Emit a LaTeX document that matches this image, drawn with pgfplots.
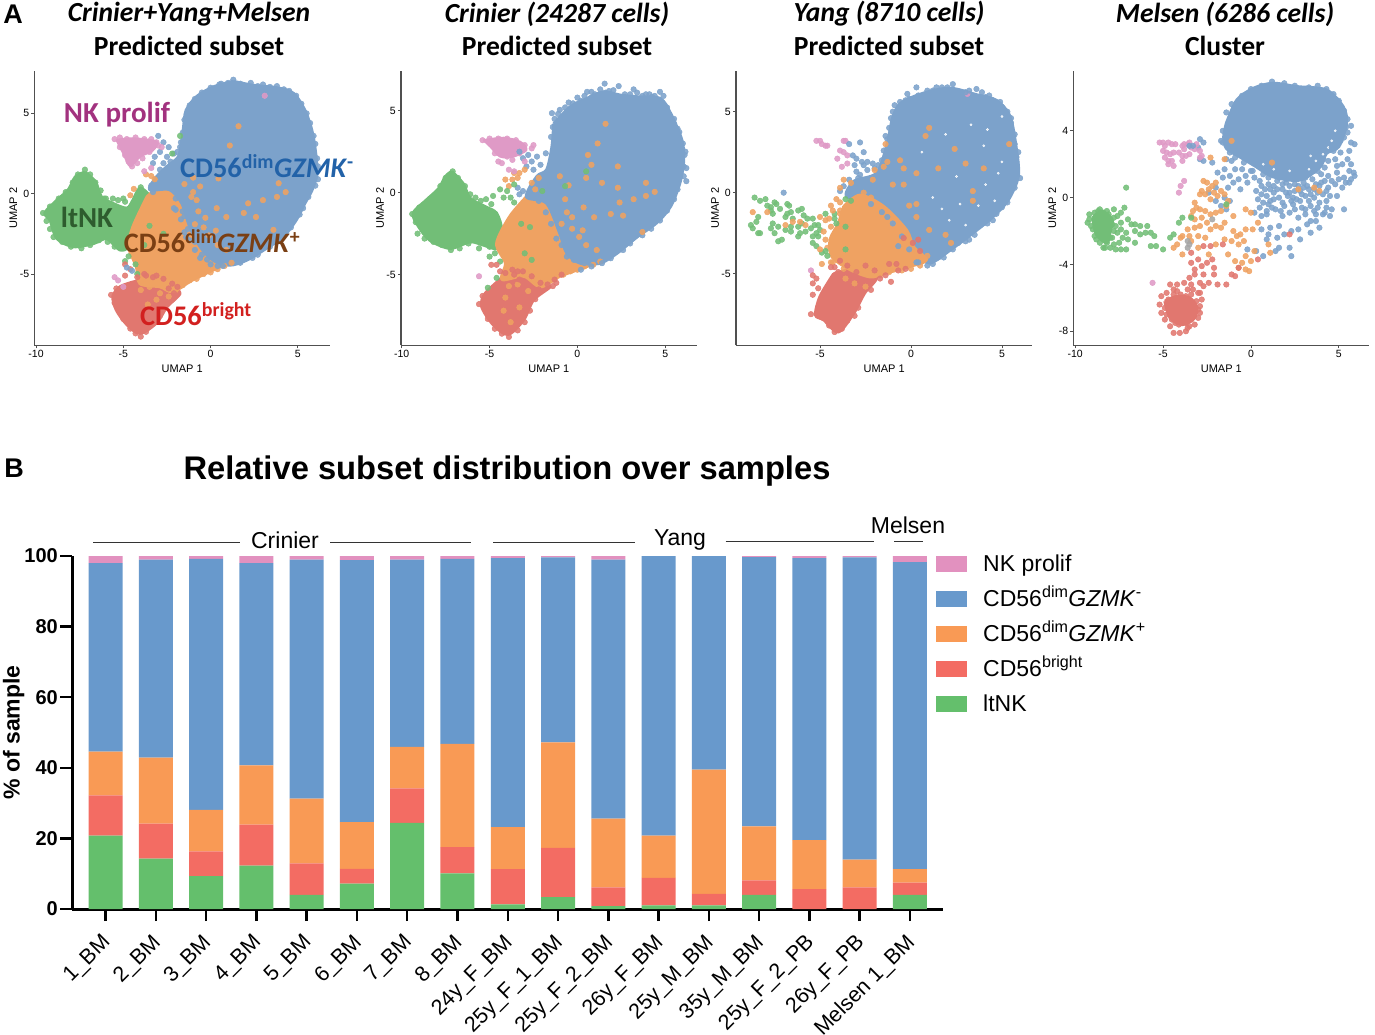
\documentclass[border=0pt]{standalone}
\usepackage{fontspec}
\usepackage{pgfplots}
\usepackage{pgfplotstable}
\pgfplotsset{compat=1.18}
\setmainfont{Liberation Sans}
\newfontfamily\carlito{Carlito}
\newcommand{\fs}[1]{\fontsize{#1}{#1}\selectfont}

% colours of the bars
\definecolor{barpink}{HTML}{E291BF}
\definecolor{barblue}{HTML}{6899CC}
\definecolor{barorange}{HTML}{F99A55}
\definecolor{barred}{HTML}{F36C63}
\definecolor{bargreen}{HTML}{64BF6C}
% colours of the umap dots
\definecolor{cpink}{HTML}{DF9AC6}
\definecolor{cblue}{HTML}{7CA2CB}
\definecolor{corange}{HTML}{EFA262}
\definecolor{cred}{HTML}{E1776F}
\definecolor{cgreen}{HTML}{72BE77}
\definecolor{axgrey}{HTML}{505050}

\pgfplotsset{
  umap/.style={
    scale only axis, axis x line=bottom, axis y line=left,
    axis line style={-, line width=1.5pt, color=axgrey},
    tick align=outside, major tick length=3pt,
    every tick/.style={color=axgrey, line width=.8pt},
    tick label style={font=\fs{10.5}, inner sep=2pt},
    label style={font=\fs{11}},
    xlabel={UMAP 1}, ylabel={UMAP 2},
    xlabel style={yshift=-1pt}, ylabel style={yshift=-3pt},
    clip=false,
  },
  dots/.style={only marks, mark=*, mark size=2.8pt, color=#1,
    mark options={draw=none, fill=#1, fill opacity=.88}},
  gaps/.style={only marks, mark=*, mark size=1.1pt, color=white,
    mark options={draw=none, fill=white, fill opacity=.7}},
  cloud/.style={fill=#1, draw=#1, line width=3pt, line join=round, smooth, tension=.5},
}

\pgfplotstableread{
i  ltnk bright dimpos dimneg prolif
0  20.8 11.4 12.4 53.4 2.0
1  14.3  9.9 18.7 56.1 1.0
2   9.3  7.0 11.8 71.1 0.8
3  12.3 11.6 16.8 57.3 2.0
4   4.0  8.9 18.4 67.7 1.0
5   7.2  4.2 13.2 74.2 1.2
6  24.4  9.8 11.7 53.1 1.0
7  10.1  7.4 29.3 52.4 0.8
8   1.3 10.0 11.9 76.2 0.6
9   3.4 13.9 29.9 52.4 0.4
10  0.8  5.3 19.5 73.4 1.0
11  1.0  7.8 12.0 79.2 0.0
12  1.0  3.3 35.2 60.5 0.0
13  4.0  4.1 15.3 76.3 0.3
14  0.0  5.6 13.9 79.9 0.6
15  0.0  6.1  7.9 85.6 0.4
16  4.0  3.5  3.8 87.0 1.7
}\samples

\begin{document}
\begin{tikzpicture}[x=1pt,y=1pt]
\useasboundingbox (0,0) rectangle (1375,1034);

% ---------- panel A, combined
\begin{axis}[umap, at={(34.3pt,688.7pt)}, anchor=south west, width=295.7pt, height=274.6pt,
  xmin=-10.1, xmax=6.84, ymin=-9.44, ymax=7.66,
  xtick={-10,-5,0,5}, xticklabels={-10,-5,0,5}, ytick={-5,0,5}, yticklabels={-5,0,5}]
\addplot[cloud=cgreen] coordinates {(-7.2,1.35)(-6.6,.75)(-6.25,-.2)(-5.6,-.6)(-4.8,-.9)(-4.45,-.4)(-4.05,.35)(-3.5,-.2)(-3.85,-1.2)(-4.45,-2.25)(-4.7,-3.3)(-5.2,-3.5)(-5.95,-2.8)(-6.7,-3.1)(-7.85,-3.3)(-8.8,-2.8)(-9.2,-1.65)(-9.5,-1.2)(-8.8,-.4)(-8.15,.25)(-7.75,1.05)(-7.2,1.35)};
\addplot[dots=cgreen] coordinates {(-9.6,-1.2)(-9.4,-1.7)(-9.2,-2.2)(-9,-2.7)(-8.5,-3)(-8,-3.3)(-7.4,-3.4)(-6.9,-3.2)(-6.4,-2.9)(-5.9,-3)(-5.5,-3.3)(-9.2,-.8)(-8.7,-.3)(-8.3,.1)(-7.9,.7)(-7.6,1.2)(-7.2,1.5)(-6.9,1.2)(-6.6,.7)(-6.3,.2)(-6.1,-.3)};
\addplot[cloud=cpink, line width=2pt] coordinates {(-5.4,3.35)(-4.45,3.45)(-3.1,3.25)(-3.3,2.7)(-4.05,2.3)(-4.6,1.7)(-5,2.5)(-5.4,3.35)};
\addplot[dots=cpink] coordinates {(-5.5,3.4)(-5.2,3.5)(-4.8,3.4)(-4.3,3.5)(-3.8,3.4)(-3.4,3.4)(-3.1,3.2)(-5.2,2.9)(-4.9,2.4)(-4.7,2)(-4.5,1.7)(-4.2,1.9)(-3.9,2.2)(-3.5,2.6)};
\addplot[cloud=cred] coordinates {(-4.45,-5.5)(-3.5,-5.35)(-2.35,-5.8)(-1.75,-6.2)(-2.5,-7.05)(-3.1,-8.05)(-4.05,-8.7)(-4.8,-8.15)(-5.4,-7.25)(-5.6,-6.4)(-5.2,-5.8)(-4.45,-5.5)};
\addplot[dots=cred] coordinates {(-5.5,-6.8)(-5.7,-6.3)(-5.4,-5.9)(-5,-7.8)(-4.6,-8.4)(-4.3,-8.7)(-4,-8.9)(-3.7,-8.6)(-3.3,-8.1)(-2.9,-7.6)(-2.6,-7)(-2.2,-6.6)};
\addplot[cloud=corange] coordinates {(-3.65,-.2)(-2.35,.85)(-1.55,-.4)(-1.2,-2.05)(-.25,-3.3)(1.3,-4.15)(.55,-4.55)(-1,-5.35)(-2.15,-6.1)(-2.9,-5.8)(-4.05,-5.6)(-4.25,-4.55)(-4.7,-3.3)(-4.45,-2.05)(-3.65,-.2)};
\addplot[dots=corange] coordinates {(-2,-6)(-1.6,-5.7)(-1.2,-5.4)(-.8,-5.3)(-.4,-5)(0,-4.9)(.4,-4.7)(.8,-4.5)(1.2,-4.3)(-.1,-4.7)};
\addplot[cloud=cblue] coordinates {(1.3,7)(2.45,6.75)(3.8,6.6)(4.75,6.25)(5.4,5.2)(5.8,3.95)(6,2.7)(6.1,1.25)(5.8,.2)(5.4,-.6)(4.9,-1.65)(4.15,-2.7)(3.2,-3.4)(2.05,-4.15)(1.1,-4.45)(.15,-4.15)(-.6,-3.3)(-1.2,-2.05)(-1.65,-.6)(-2.35,.25)(-3.5,.25)(-3.1,1.05)(-2.5,1.7)(-1.85,2.3)(-1.65,3.35)(-1.55,4.15)(-1.4,5.2)(-.8,6.05)(.15,6.65)(1.3,7)};
\addplot[dots=cblue] coordinates {(-3,3.6)(-2.7,3.2)(-2.4,2.9)(-2.9,2.6)(-2.5,2.3)(-2.1,2.5)(-3.2,2.3)(-2.7,1.9)(-2.2,1.8)(-1.9,2.6)(-1.7,3.2)(-2.3,2)(-3.3,1.9)(-2.9,1.5)(-2.6,1.4)(-3.4,.5)(-3.1,.8)(-3.3,.1)(-2,-1)(-1.7,-1.6)(-1.5,-2.4)(-.9,-3)(-.5,-3.8)(0,-4.4)(-1.2,-.9)(-1.4,-2.7)(.6,6.85)(1.3,7.1)(2.3,6.9)(3,6.8)(3.8,6.7)(4.5,6.4)
(-1.5,4.6)(-1.6,3.8)(-1.75,2.9)(-1.2,5.5)(-.9,5.9)(-.5,6.3)(0,6.6)(.5,6.8)(1,6.9)(1.7,6.85)(2.7,6.7)(3.4,6.65)(4.2,6.5)(4.9,6.1)(5.2,5.6)(5.5,5)(5.7,4.4)(5.9,3.6)(6,3.1)(6.1,2.2)(6.15,1.7)(6.15,.9)(6,.5)(5.6,-.2)(5.3,-.9)(5.1,-1.3)(4.6,-2.1)(4.3,-2.5)(3.8,-3)(3.4,-3.3)(2.7,-3.8)(2.4,-4)(1.7,-4.3)(.7,-4.5)
(-2,-.3)(-1.9,.3)(-2.4,.5)(-1.6,-1.1)(-1.5,-1.4)(-1.3,-2.2)(-1.2,-2.9)(-.9,-3.5)(-.6,-4)(-.2,-4.1)(.4,-4.5)(-2.1,-.9)(-1.8,-.2)};
\addplot[dots=corange] coordinates {(1.6,4.2)(1.1,3)(3.9,.65)(4.3,.1)(3.8,-.2)(3,-.4)(2.15,-.6)(1.9,-1.2)(.9,-1.45)(.35,-.9)(.45,.95)(-.6,.45)(2.6,-1.45)(3.6,-2.25)(-1,1)(-.8,-.4)(-.7,-1.1)(-.4,-2.1)(-.1,-2.6)(.4,-3.2)(.9,-3.5)(-.9,-1.9)(-.3,-1.5)(.3,-2.3)(-1.1,-.2)(-3.7,1.2)(-3.4,1.1)(-3.2,.9)(-4.4,.3)(-4.6,-.1)(-1.5,.6)(-1,.1)(-3.9,-5.4)(-3.3,-5.6)(-2.9,-6.2)(-3.1,-6.6)(-2.4,-6.4)(-3.6,-6.9)(-4,-6)(-3.5,-5.8)};
\addplot[dots=cgreen] coordinates {(-1.75,3.6)(-2.2,2.5)(-4,.4)(-5.3,-.4)(-5.6,-.3)(-4.9,-.5)(-5.9,-.7)(-6,-.3)(-5,-.3)(-4.3,-4.4)(-4.7,-3.9)(-4.2,-5)(-4.9,-4.2)(-3.5,-2)(-2.7,-2.5)(-3.8,-3.2)};
\addplot[dots=cred] coordinates {(-4.9,-4.4)(-4.6,-4.7)(-4.9,-5.1)(-2.4,-5.9)(-2.1,-6.2)(-3.3,-5.2)(-3.8,-5)(-4.2,-5.2)(-3.7,-5.1)(-3.1,-5.1)(-2.7,-5.3)(-2.2,-5.6)(-1.9,-5.8)};
\addplot[dots=cpink] coordinates {(-3.8,1.4)(-3.4,1.6)(-3,3)(-2.8,2.9)(-5.5,-5.2)(-5.3,-5.4)(-5,-5.8)(3.1,6.1)};
\addplot[dots=cblue] coordinates {(-4.5,-4.8)(-4.8,-4.6)};
\end{axis}

% ---------- panel A, Crinier
\begin{axis}[umap, at={(401pt,688.7pt)}, anchor=south west, width=295.7pt, height=274.6pt,
  xmin=-10.04, xmax=6.79, ymin=-9.31, ymax=7.44,
  xtick={-10,-5,0,5}, xticklabels={-10,-5,0,5}, ytick={-5,0,5}, yticklabels={-5,0,5}]
\addplot[cloud=cgreen] coordinates {(-7.15,1.3)(-6.5,.55)(-6.1,-.35)(-5.25,-.85)(-4.6,-1.25)(-4.3,-2.3)(-4.5,-3.4)(-5.35,-3.2)(-6.1,-3)(-7.25,-3.4)(-8.4,-2.9)(-9.05,-2.05)(-9.35,-1.25)(-8.6,-.45)(-7.9,.25)(-7.5,1)(-7.15,1.3)};
\addplot[dots=cgreen] coordinates {(-9.4,-1.3)(-9.2,-1.8)(-9.1,-2.5)(-8.7,-2.8)(-8.2,-3)(-7.7,-3.2)(-7.2,-3.5)(-6.7,-3.4)(-6.2,-3.1)(-5.6,-3.4)(-5,-3.3)(-9,-.9)(-8.6,-.6)(-8.1,-.2)(-7.8,.4)(-7.5,.9)(-7.1,1.3)(-6.8,.9)(-6.4,.4)(-6.1,-.1)};
\addplot[cloud=cpink, line width=2pt] coordinates {(-5.35,3.2)(-4.2,3.35)(-3.25,3.1)(-2.9,2.6)(-3.65,2.2)(-4.4,2.2)(-4.95,2.8)(-5.35,3.2)};
\addplot[dots=cpink] coordinates {(-5.4,3.2)(-5,3.3)(-4.5,3.3)(-4,3.3)(-3.5,3.2)(-3,2.9)(-3.3,2.4)(-4,2.2)(-4.7,2.4)};
\addplot[cloud=cred] coordinates {(-4.3,-5.2)(-3.05,-4.9)(-1.95,-5.75)(-1.55,-5.75)(-2.5,-6.55)(-3.05,-7.75)(-3.95,-8.65)(-4.8,-8.05)(-5.45,-6.95)(-5.25,-6.15)(-4.3,-5.2)};
\addplot[dots=cred] coordinates {(-5.6,-6.8)(-5.4,-6.3)(-5.1,-7.7)(-4.7,-8.3)(-4.3,-8.6)(-3.9,-8.8)(-3.4,-8.4)(-3,-7.9)(-2.7,-7.2)(-2.4,-6.5)};
\addplot[cloud=corange] coordinates {(-2.9,-.25)(-1.75,-.65)(-1,-2.5)(-.4,-3.7)(1.5,-4)(.55,-4.5)(-1,-5.1)(-2.1,-5.75)(-3.05,-5.1)(-4.3,-5.3)(-4.1,-4.3)(-4.6,-3.1)(-3.85,-1.45)(-2.9,-.25)};
\addplot[dots=corange] coordinates {(-.8,-5)(-.4,-4.8)(0,-4.7)(.4,-4.5)(.9,-4.4)(1.3,-4.2)(-1.4,-5.3)(-1.8,-5.5)(-2.2,-5.5)};
\addplot[cloud=cblue] coordinates {(-1.35,4.2)(-.4,5.25)(.55,5.75)(1.5,6.15)(2.45,5.95)(3.4,5.85)(4.7,5.75)(5.3,4.85)(5.95,3.2)(6.05,2)(5.85,.65)(5.3,-.85)(4.5,-1.85)(3.4,-2.7)(2.25,-3.7)(1.3,-4.3)(.15,-4.3)(-.6,-3.7)(-1,-2.5)(-1.75,-.65)(-2.9,-.25)(-2.3,1)(-1.75,1.4)(-1.45,2.8)(-1.35,4.2)};
\addplot[dots=cblue] coordinates {(1.55,6.65)(.55,6.15)(.8,6.15)(1.3,6.3)(2.05,6.25)(2.35,6.5)(3.2,6.3)(4.7,6.15)(4.25,5.85)(-.25,5.45)(-1,5.05)(-1.45,4.85)(-.7,5.2)(.2,5.6)(1.8,6.2)(2.7,6)(3.7,5.9)(4.1,6)(5.5,4.2)(5.8,3.7)(-3.3,2.5)(-2.8,2.3)(-3.1,2.1)(-2.6,1.9)(-2.9,1.6)(-2.3,2.2)(-2.1,1.7)(-1.8,2.4)(-3.4,.3)(-3.1,.1)(-3.3,-.1)(-2.5,1.4)(6.2,.7)(6.2,1.5)(6.15,2.5)
(5.5,4.5)(5.7,3.9)(6,3)(6.1,2.3)(6.05,1.6)(6.05,1)(5.7,.2)(5.5,-.4)(5.1,-1.1)(4.7,-1.7)(4.2,-2.2)(3.7,-2.6)(3,-3.1)(2.6,-3.5)(1.9,-4)(1.4,-4.3)(.8,-4.5)(.2,-4.7)
(-1.3,4.5)(-1.4,4)(-1.5,3.4)(-1.4,2.6)(-1.1,4.8)(-.5,5.5)(0,5.8)(.4,5.9)(1,6)(1.6,6.1)(2.1,5.9)(3,6)(3.4,6.1)(3.9,6)(4.4,5.9)(4.9,5.9)(5.1,5.2)(-.1,5.3)(.8,5.8)
(-2.2,-.5)(-1.8,-1.2)(-1.5,-1.9)(-1.2,-2.8)(-.9,-3.2)(-.6,-3.9)(-.2,-4.1)(.4,-4.3)(-2.5,0)};
\addplot[dots=corange] coordinates {(1.6,4.2)(1.15,3)(.6,2.3)(.8,1.7)(2.3,1.6)(.5,.9)(1.4,.6)(2.3,.3)(3.9,.6)(4.4,.05)(3.9,-.2)(3.2,-.4)(2.4,-.6)(1.9,-1.3)(.95,-1.5)(.35,-.9)(-.5,.45)(2.6,-1.4)(3.7,-2.4)(-1,1)(-.7,-.4)(-.6,-1.2)(-.3,-2.2)(.1,-2.7)(.5,-3.2)(1.1,-3.5)(-.9,-1.9)(-.3,-1.5)(.3,-2.3)(-2.2,.9)(-2.6,.6)(-3.3,1.2)(-3,1.4)(-3.6,1.2)(-2.4,.2)(-3.7,.8)(-3.9,.4)(-4.1,.8)(-3.4,.9)(-3.9,-5.7)(-3.4,-5.6)(-2.8,-6)(-4.2,-7.2)(-3.3,-7)(-3.8,-7.9)(-4.1,-6.4)};
\addplot[dots=cgreen] coordinates {(-4.4,.2)(-4,.1)(-4.2,-.3)(-3.8,-.3)(-3.6,-.6)(-5.2,-.4)(-5.5,-.5)(-4.9,-.7)(-5.8,-.3)(-4.8,-.2)(-3.6,.5)(-3.2,-1.9)(-2.7,-2.1)(-2.6,-4.1)(-3,-3.7)(-4.7,-3.7)(-5,-3.9)(-4.4,-4.2)(-4.6,-5.2)(-5.1,-5.8)(-.7,.4)(.5,1.3)(-2,.1)};
\addplot[dots=cred] coordinates {(-4.9,-4.4)(-4.6,-4.4)(-4.4,-4.8)(-2.2,-5.9)(-1.4,-5.7)(-1.2,-5.5)(-3.4,-4.8)(-3.7,-4.7)(-4.1,-4.9)(-3.6,-5)(-3.1,-4.8)(-2.6,-5.1)(-2.1,-5.5)(-1.7,-5.6)(-3.3,-5.3)(-1.3,-5.3)(-.9,-5)};
\addplot[dots=cpink] coordinates {(-4.5,1.9)(-4.3,1.8)(-3.9,1.4)(-3.6,1.3)(-5.6,-5.1)(-3.7,2)(-2.5,2.9)(-2.6,2.7)(-3,1.9)};
\end{axis}

% ---------- panel A, Yang
\begin{axis}[umap, at={(736pt,688.7pt)}, anchor=south west, width=296.3pt, height=274.6pt,
  xmin=-9.62, xmax=6.67, ymin=-9.42, ymax=7.53,
  xtick={-5,0,5}, xticklabels={-5,0,5}, ytick={-5,0,5}, yticklabels={-5,0,5}]
\addplot[cloud=cred] coordinates {(-4.25,-5)(-3.15,-4.75)(-1.9,-5.2)(-2.55,-6.2)(-3.15,-7.45)(-4,-8.6)(-4.8,-7.85)(-5.25,-7.55)(-5,-6.4)(-4.25,-5)};
\addplot[cloud=cblue] coordinates {(-1.05,4.5)(-.6,5.5)(.7,6.15)(2.15,6.45)(3.6,6.05)(4.7,5.7)(5.45,4.7)(5.8,2.65)(5.9,1)(5.35,-.45)(4.5,-1.5)(3.4,-2.5)(2.15,-3.55)(1.05,-4.35)(.5,-3.75)(-.25,-2.3)(-1.15,-1.3)(-2.25,-.25)(-3.55,-.25)(-3.15,.7)(-1.9,1.2)(-1.35,2.85)(-1.05,4.5)};
\addplot[gaps] coordinates {(4,2.9)(4.8,1.2)(2.7,-.7)(3,-2)(1.9,3.6)(3.3,4.2)(4.6,-.5)(5,1.9)(4.1,.5)(1.2,-.3)(2.1,-1.7)(5,4.7)(4.2,3.9)(.6,2.5)(2.5,1)(1.7,-1)(3.7,-.8)};
\addplot[cloud=corange] coordinates {(-3.7,-.85)(-2.8,-.15)(-1.5,-.85)(-.25,-2.3)(.15,-3.35)(.85,-4.15)(-.05,-4.55)(-1.5,-5)(-2.25,-5.2)(-3.35,-4.75)(-4.35,-3.95)(-4.45,-2.9)(-4,-1.9)(-3.7,-.85)};
\addplot[dots=corange] coordinates {(-4.6,-3.4)(-4.7,-2.9)(-4.3,-4.3)(-3.7,-4.7)(-3.9,-1.1)(-2.6,0)(-2.2,-.3)(-1.7,-5.1)(-1.2,-4.9)(-.5,-4.8)(0,-4.7)(.5,-4.5)(.9,-3.9)};
\addplot[dots=cgreen] coordinates {(-8.6,-.3)(-8.3,-.5)(-8,-.4)(-7.7,-.9)(-7.9,-.8)(-7.5,-.6)(-7.4,-.7)(-7.2,-1)(-7.6,-1.3)(-7.7,-1.1)(-8.4,-1.5)(-8.5,-1.8)(-8.8,-2)(-8.7,-2.2)(-8.4,-2.5)(-8.3,-2.5)(-7.6,-1.9)(-7.7,-2.2)(-7.3,-2.1)(-7.5,-2.5)(-7.3,-3)(-7.1,-2.9)(-6.9,-1.5)(-6.8,-.7)(-6.7,-.8)(-6.6,-1.2)(-6.8,-1.3)(-6.5,-1.6)(-6.6,-2.1)(-6.9,-2.3)(-6.6,-2.4)(-6.2,-1.1)(-6,-1)(-5.9,-1.4)(-5.7,-1.6)(-6,-1.9)(-6.2,-2.1)(-6.1,-2.5)(-6.2,-2.7)(-5.8,-2.4)(-5.5,-2.2)(-5.3,-2)(-5.1,-2)(-5,-2.3)(-5.2,-2.5)(-5.4,-2.7)(-5.1,-2.7)(-5.4,-3.1)(-5.2,-3.3)(-5.4,-1.6)(-4.7,-1.3)(-4.2,-1.3)(-4.2,-1.6)(-4.1,-1.9)(-3.6,-2.1)(-4.7,-3.6)(-4.9,-3.7)(-4.6,-3.9)(-3.6,-.4)(-3.3,-.5)(-3.6,-3.5)};
\addplot[dots=cpink] coordinates {(-5.2,3.2)(-5,3.2)(-4.9,3)(-4.7,2.9)(-4.6,2.9)(-3.7,3.2)(-3.6,3.2)(-3.9,2.6)(-3.7,2.5)(-3.5,2.3)(-4.05,2.1)(-3.5,1.8)(-3.8,1.6)(3.1,6.1)(-5.5,-4.8)};
\addplot[dots=cblue] coordinates {(-7,0)(-3.4,3)(-2.8,3.1)(-2.6,2.5)(-3.2,2.3)(-3,2.1)(-2.7,1.9)(-2.6,1.7)(-2.4,1.9)(-2.1,1.8)(-2,1.5)(-3.1,1.7)(-3,1.3)(-2.4,1.4)(-1.6,2)(-1.5,2.6)(-1.3,3.3)(-.9,5.4)(-.3,5.7)(.3,6.5)(-.2,6.1)(.9,6.3)(1.4,6.5)(1.7,6.5)(2.3,6.7)(3,6.2)(3.6,6.4)(3.9,6.2)(4.3,6)(4.9,5.6)(5.3,5)(5.5,4.6)(5.7,3.6)(5.9,2.5)(5.8,1.9)(6,.9)(5.7,.3)(5.3,-.6)(4.5,-1.7)(3.8,-2)(3,-3)(2.6,-3.1)(1.8,-4)(.9,-4.5)(.4,-4.3)(-3.9,.1)(-3.7,.4)(-3.4,.8)(-2.9,.9)
(-1.4,3.5)(-1.2,4)(-1.1,4.6)(-1,5)(-.6,5.6)(-.1,5.8)(.4,6)(.9,6.1)(1.2,6.3)(2,6.5)(2.6,6.1)(3.2,6.3)(4.1,5.9)(4.5,5.7)(5,5.3)(5.5,4.3)(5.5,3.8)(5.7,3)(5.8,2.2)(5.8,1.4)(5.6,.6)(5.4,0)(5,-.9)(4.7,-1.3)(4.2,-1.9)(3.5,-2.6)(3.2,-2.9)(2.3,-3.5)(1.5,-4)(1.2,-4.4)(-1.8,1.7)(-2.8,1.1)(-3.1,.5)(-3.3,0)(-2.7,.4)(-2.3,.6)
(-2.2,-.7)(-1.6,-1.2)(-1,-1.9)(-.5,-2.7)(-.1,-3.5)(.3,-4.3)(-1.3,-1.5)(-.7,-3.3)};
\addplot[dots=corange] coordinates {(-1.4,3)(-1.5,1.6)(-1.3,1.9)(-3.7,.8)(-3.9,.3)(-3.3,.6)(-2.1,.8)(-2,1.4)(.8,3.5)(1,4)(2.4,2.7)(3,1.8)(.3,1.2)(1.5,1.5)(4,1.5)(5.4,3)(3.4,.1)(3.4,-.5)(-1,.5)(-.4,.5)(.3,-.7)(-.6,2)(-.4,1.5)(-.1,-.8)(1.9,-2.6)(2.2,-3.1)(1,-2.3)(.3,-1.5)(-3.9,-.6)(-4.1,-.4)(-4.4,-.8)(-4.3,-1.1)(-3.9,-1.3)(-4.5,-1.6)(-4.7,-1.7)(-4.4,-2.1)(-4.8,-2.4)(-5,-1.5)(-5.8,-2)(-6.1,-1.8)(-6.5,-1.8)(-6.9,-2)(-8.7,-1.2)(-7.9,-1.2)(-5,-3.5)(-4.9,-4.4)(-4.4,-4.3)(-3.1,-5.6)(-2.5,-5.8)(-3.6,-5.3)};
\addplot[dots=cred] coordinates {(-5.4,-5.1)(-5.2,-5.3)(-5.4,-5.6)(-5.1,-5.9)(-5.4,-6.3)(-5,-6.8)(-5.5,-7.5)(-4.4,-4.6)(-4,-4.9)(-1.7,-5.3)(-1.4,-5.1)(-1.1,-5.5)(-.7,-4.8)(-.3,-4.7)(.1,-3.1)(.4,-2.9)(.5,-3.6)(-.4,-2.8)(-2.2,-6)(-2.9,-6.6)(-3,-4.9)(-2.5,-4.5)(-2,-4.8)(-3.5,-4.5)(-1.2,-4.4)(-.8,-4.4)(-3.9,-4.2)(-4.2,-4.6)(-2.8,-5.5)(-4.9,-7.7)(-4.5,-8.2)(-4.2,-8.6)(-3.8,-8.4)(-3.5,-7.9)(-3.1,-7.6)(-2.9,-7.1)};
\end{axis}

% ---------- panel A, Melsen
\begin{axis}[umap, at={(1073.3pt,688.7pt)}, anchor=south west, width=296pt, height=274.6pt,
  xmin=-10.11, xmax=6.74, ymin=-8.84, ymax=7.6,
  xtick={-10,-5,0,5}, xticklabels={-10,-5,0,5}, ytick={-8,-4,0,4}, yticklabels={-8,-4,0,4}]
\addplot[cloud=cgreen] coordinates {(-9,-1.2)(-8.5,-.8)(-7.9,-1.3)(-8,-2)(-8.2,-2.7)(-8.8,-2.2)(-9,-1.2)};
\addplot[cloud=cred] coordinates {(-4.9,-6.2)(-4.2,-5.9)(-3.5,-6)(-3.1,-6.5)(-3.2,-7.2)(-3.9,-7.6)(-4.6,-7.2)(-4.9,-6.2)};
\addplot[cloud=cblue] coordinates {(-1.4,4.45)(-.8,5.85)(.15,6.55)(1.25,6.85)(2.6,6.65)(4.3,6.45)(5.25,5.45)(5.45,4.45)(5,3.05)(4.3,2.65)(3.95,1.85)(2.8,1.05)(1.25,1.25)(.3,1.85)(-.65,2.45)(-1.4,2.95)(-1.55,3.65)(-1.4,4.45)};
\addplot[gaps] coordinates {(4.6,3.4)(4.4,3)(4.1,2.6)(3.7,2.2)(3.3,1.7)(2.2,1.6)(1.3,1.7)(.7,2)(4.8,4)(3.4,2.5)};
\addplot[dots=cblue] coordinates {(-2.9,3.5)(-2.7,3.3)(-3,3)(-2.9,2.3)(-2.7,2.2)(-2.2,2.1)(-1.7,3.4)(-1.4,2.3)(-1.1,2.2)(-1.5,1.7)(-1.9,1.5)(-1.6,1.2)(-1.2,1.3)(-.9,1.7)(-.5,1.7)(-.7,1.1)(-.3,1.3)(0,1.6)(.2,1.2)(-.2,.9)(-.6,.5)(-1,.9)(-1.3,.6)(-2,.6)(-2.4,.3)(-1.5,0)(-1.2,-.2)(-1.7,-.5)(-2,-.2)(-1.4,-.7)
(.5,1)(1,.8)(1.5,1)(2,.9)(2.5,.8)(3,.9)(3.5,1.1)(4,1.4)(4.4,1.3)(4.9,1.5)(5.3,1.2)(5.7,1.1)(5.9,1.3)
(.3,.4)(.8,.5)(1.3,.3)(1.8,.5)(2.2,.3)(2.8,.4)(3.3,.5)(3.9,.7)(4.4,.6)(4.8,.8)(5.2,.6)(5.6,.9)
(.4,-.1)(.9,.1)(1.1,-.2)(1.6,0)(2.1,.1)(2.6,-.1)(3.1,.1)(3.6,0)(4.1,.2)(4.5,.1)(4.9,.1)
(.5,-.6)(1,-.4)(1.4,-.7)(1.9,-.5)(2.4,-.4)(2.9,-.6)(3.4,-.5)(3.9,-.3)(4.3,-.6)(4.6,-.7)(5.3,-.7)
(.2,-.9)(.9,-1)(1.8,-1.1)(2.2,-.9)(2.7,-1.2)(3.1,-1)(3.7,-1)(4.1,-1)(4.5,-1.1)
(.6,-1.9)(1.1,-1.8)(1,-2.2)(1.6,-1.7)(1.9,-2.2)(2.3,-2)(2.7,-1.9)(3.2,-1.6)(3.4,-2.1)(3.9,-1.8)(3.7,-1.4)(.9,-2.5)(1.5,-2.4)(2.8,-2.5)(1.6,-3)(1.4,-3.2)(2.2,-3)(2.3,-3.5)(.3,-3.2)(.7,-3.5)(-.2,-3.1)
(4.6,3)(5,3.3)(5.3,3.6)(5.7,3.3)(5.9,3.2)(5.6,2.8)(5.1,2.7)(5.5,2.3)(4.8,2.3)(4.4,2.2)(5.2,2)(5.7,2)(4.9,1.9)(5.6,1.6)(5.85,1.5)(4.2,1.8)(5.4,4.2)(5.7,4.3)(5.5,3.9)
(.7,1.4)(1.6,1.2)(2.4,1.1)(3.3,1.4)(3.6,1.6)(4,.9)(1.1,.5)(2.5,.4)(3,.6)(3.6,.5)(4.3,-.2)(4.2,-.9)(3.4,-1.4)
(-1.6,4)(-1.6,3.3)(-1.4,5.1)(-1.1,5.6)(-.5,6.1)(0,6.5)(.6,6.7)(1.2,6.95)(1.9,6.85)(2.5,6.7)(3.3,6.6)(3.8,6.7)(4.3,6.5)(4.7,6.2)(5,5.8)(5.3,5.2)(5.5,4.7)(5.2,4.1)(5.1,3.4)(4.7,2.8)(4.1,2.3)(3.8,1.6)(3.1,1.2)(2,1.1)(1,1.2)(.1,1.6)(-.4,2.1)(-.9,2.4)(-1.2,2.7)
(.6,.7)(1.3,.7)(1.8,.8)(2.2,.7)(2.7,.7)(3.2,.7)(3.7,.8)(4.2,1)(4.6,1)(5,1.1)(5.4,.9)(.6,.2)(1.5,.5)(2,.3)(2.4,0)(2.9,.2)(3.4,.2)(3.8,.3)(4.3,.4)(1.3,-.1)(1.8,-.3)(2.3,-.2)(2.8,-.2)(3.3,-.2)(3.8,-.6)(.7,-.3)(1.2,-.6)(1.7,-.8)(2.5,-.7)(3.1,-.7)(3.6,-.8)(.9,-.8)(.6,-1.1)};
\addplot[dots=corange] coordinates {(-2.8,.4)(-2.6,.2)(-2.4,.5)(-2.2,.7)(-2.5,.9)(-2.7,1)(-2.1,.3)(-1.9,.1)(-2.3,-.1)(-2.9,.2)(-2,.9)(-1.7,.4)(-1.5,.2)(-1.3,-.2)(-1.4,-.5)(-1.7,-.8)(-2,-.9)(-2.3,-1)(-2.6,-.8)(-2.9,-.7)(-3.1,-.6)(-3.3,-.8)(-3.4,-1.1)(-3.2,-1.3)(-2.8,-1.2)(-2.5,-1.5)(-2.9,-1.7)(-3.2,-1.8)(-3.6,-1.9)(-3.9,-2.3)(-4.4,-3)(-4.2,-2.8)(-4,-2.4)(-3.5,-2.3)(-3,-2.3)(-2.6,-2.4)(-2.3,-1.9)(-2,-1.7)(-1.7,-1.8)(-1.5,-1.5)(-1,-2)(-.8,-2.3)(-1.1,-2.6)(-.6,-2.2)(-.4,-2.6)(-.7,-2.8)(-.3,-1.9)(.1,-1.9)(.4,-1.5)(-1,-1.1)(-.3,-.7)(0,-.9)(-.5,-3.9)(-.9,-3.8)(-.7,-4.2)(-.3,-4.3)(0,-3.8)(-.1,-4.4)(.2,-3.2)(-.3,-3.5)(1.1,-3.3)(1,-2.8)(-3.2,-.3)(-3.4,-2.6)(-1.5,2.3)(-2.3,2.4)(-3.9,-3.4)(-2,-2.8)(-1.5,-2.5)(-3,-3)(-2.4,-3.4)(-1.3,-3.4)(3.6,.6)(3.9,.4)(2.7,.5)(1.2,2.1)(-1.1,3.4)};
\addplot[dots=cred] coordinates {(-3.4,-3.9)(-3,-3.7)(-3.2,-4.3)(-2.8,-4.1)(-2.5,-3.9)(-2.2,-3.7)(-2.1,-4.2)(-2.7,-4.6)(-2.1,-4.6)(-3.2,-4.6)(-3.5,-4.8)(-3.4,-5.2)(-2.9,-5.1)(-2.7,-5.3)(-2.4,-5.1)(-2.9,-5.7)(-1.9,-5.2)(-1.4,-5.2)(-1.1,-4.6)(-.9,-4.7)(-2.8,-6.1)(-3,-5.7)(-3.6,-5.5)(-3.8,-5.1)(-4.2,-5.2)(-4.6,-5.2)(-4.2,-5.6)(-4.8,-5.7)(-5.1,-5.9)(-5.2,-6.4)(-5.1,-6.9)(-4.9,-7.3)(-4.6,-7.7)(-4.4,-8.1)(-4.05,-8.1)(-3.7,-8)(-3.5,-7.7)(-3.2,-7.6)(-2.9,-6.9)(-2.9,-6.5)(-3.6,-7.8)(-4.3,-7.5)(-.7,-4.2)(.4,-3.7)(-2.7,-2.9)(-2.3,-2.9)(-1.6,-2.8)(-3.4,-3.3)(2.2,-2.2)
(-4.9,-6.6)(-4.7,-6.1)(-4.4,-5.8)(-4,-5.8)(-3.7,-5.9)(-3.4,-5.8)(-3.1,-6.2)(-3,-6.7)(-3,-7.2)(-3.4,-7.3)(-3.7,-7.5)(-4.1,-7.6)(-4.5,-7.3)(-4.8,-7)(-4.4,-5.5)(-3.3,-5.5)};
\addplot[dots=cgreen] coordinates {(-9.2,-1.3)(-9.1,-1.7)(-8.9,-.9)(-8.6,-.7)(-8.2,-.8)(-7.8,-.7)(-7.6,-1.1)(-7.4,-1.5)(-7.7,-1.7)(-7.6,-2.1)(-7.9,-2.4)(-8.8,-2.5)(-8.4,-3)(-8,-3)(-7.7,-3.1)(-7.4,-3.1)(-7.1,-3.1)(-7,-2.5)(-7.1,-2.1)(-6.8,-1.6)(-7,-1.3)(-6.6,-1.6)(-6.3,-1.7)(-5.9,-1.7)(-6.6,-2)(-6.3,-2.2)(-6,-2.1)(-5.7,-2.1)(-5.5,-2.3)(-5.4,-2.9)(-5.7,-2.9)(-6.6,-2.7)(-7.1,.6)(-7.2,-.6)(-5,-3.1)(-4.6,-2.4)(-4.4,-2.2)(-4.1,-1.5)(-3.9,-1.2)(-1.4,-.4)(-3.4,-1.2)
(-9.3,-1.5)(-9.2,-1)(-8.9,-1.3)(-8.7,-.8)(-8.4,-.9)(-8.1,-1)(-7.8,-1.2)(-7.9,-1.6)(-7.8,-2)(-8,-2.4)(-8.2,-2.7)(-8.6,-2.7)(-8.9,-2.3)(-9,-1.9)(-8.3,-3)(-7.8,-2.8)(-7.5,-2.7)(-7.3,-2.4)(-7.4,-1.9)(-7.4,-.9)};
\addplot[dots=cpink] coordinates {(-5.2,3.3)(-5,3.3)(-4.9,3.1)(-4.7,3.3)(-4.5,3.2)(-4.3,3.2)(-5,2.8)(-4.8,2.7)(-4.6,2.6)(-4.4,2.7)(-4.9,2.4)(-4.7,2.2)(-4.5,2.2)(-4.4,1.9)(-4.7,2)(-4.1,2.7)(-3.9,2.5)(-3.9,2.2)(-3.7,2.5)(-3.8,2.9)(-3.9,3.1)(-3.6,3.2)(-3.4,3)(-3.2,2.9)(-3.5,2.6)(-3.1,3.2)(-2.9,2.8)(-2.8,2.5)(-2.9,2.4)(-3.8,1)(-4,.7)(-4.1,.3)(-5.6,-5.1)(-3.5,3.3)(-3.8,3.2)};
\addplot[dots=cblue] coordinates {(-3.5,3.1)(-3.3,3.1)};
\addplot[dots=gray!70] coordinates {(-3.6,-2.6)(-3.5,-2.8)(-3.6,-3)(-2.2,-1.3)};
\end{axis}

% ---------- panel B, stacked bars
\begin{axis}[at={(72pt,125pt)}, anchor=south west, scale only axis, width=871pt, height=353pt,
  ybar stacked, bar width=34pt,
  xmin=-.67, xmax=16.66, ymin=0, ymax=100,
  axis x line=bottom, axis y line=left,
  axis line style={-, line width=3pt},
  tick align=outside, major tick length=12pt,
  every tick/.style={black, line width=2.5pt},
  xtick={0,...,16},
  xticklabels={1\_BM,2\_BM,3\_BM,4\_BM,5\_BM,6\_BM,7\_BM,8\_BM,24y\_F\_BM,25y\_F\_1\_BM,25y\_F\_2\_BM,26y\_F\_BM,25y\_M\_BM,35y\_M\_BM,25y\_F\_2\_PB,26y\_F\_PB,Melsen 1\_BM},
  x tick label style={rotate=45, anchor=north east, font=\fs{21.5}, inner sep=0pt, xshift=-11.7pt, yshift=-4.5pt},
  ytick={0,20,40,60,80,100},
  /pgf/number format/assume math mode=true,
  y tick label style={font=\fs{20}\bfseries, inner sep=2pt},
  ylabel={\% of sample}, ylabel style={font=\fs{23}\bfseries, at={(axis description cs:0,.5)}, yshift=44pt},
  reverse legend,
  legend cell align=left,
  legend style={at={(rel axis cs:.992,1.023)}, anchor=north west, draw=none, fill=none,
    font=\fs{23}, row sep=0pt, inner sep=0pt,
    nodes={text height=23pt, text depth=12pt, inner sep=0pt, outer sep=0pt}},
  legend image code/.code={\fill[#1] (0pt,-6pt) rectangle (31pt,10pt); \path (47pt,0pt);},
]
\addplot[fill=bargreen, draw=none] table[x=i, y=ltnk] {\samples};
\addplot[fill=barred, draw=none] table[x=i, y=bright] {\samples};
\addplot[fill=barorange, draw=none] table[x=i, y=dimpos] {\samples};
\addplot[fill=barblue, draw=none] table[x=i, y=dimneg] {\samples};
\addplot[fill=barpink, draw=none] table[x=i, y=prolif] {\samples};
\legend{ltNK,CD56\textsuperscript{bright},CD56\textsuperscript{dim}\textit{GZMK}\textsuperscript{+},CD56\textsuperscript{dim}\textit{GZMK}\textsuperscript{-},NK prolif}
\end{axis}

% ---------- group brackets above the bars
\draw[line width=1.2pt, black!80] (93,491.3) -- (240,491.3) (330,491.3) -- (471,491.3)
  (493,491.3) -- (634.5,491.3) (725.7,492.3) -- (874,492.3) (894,492.3) -- (923.3,492.3);
\node[font=\fs{23}] at (285,494) {Crinier};
\node[font=\fs{23}] at (680,494) {Yang};
\node[font=\fs{23}] at (908,509) {Melsen};

\node[font=\fs{32.7}\bfseries] at (507,563) {Relative subset distribution over samples};
\node[font=\fs{27}\bfseries] at (13,1020) {A};
\node[font=\fs{27}\bfseries] at (14,566) {B};

% ---------- titles of the umaps
\node[font=\carlito\fs{27.6}\bfseries\itshape] at (189,1020) {Crinier+Yang+Melsen};
\node[font=\carlito\fs{27.6}\bfseries] at (189,988) {Predicted subset};
\node[font=\carlito\fs{27.6}\bfseries\itshape] at (557,1020) {Crinier (24287 cells)};
\node[font=\carlito\fs{27.6}\bfseries] at (557,988) {Predicted subset};
\node[font=\carlito\fs{27.6}\bfseries\itshape] at (889,1020) {Yang (8710 cells)};
\node[font=\carlito\fs{27.6}\bfseries] at (889,988) {Predicted subset};
\node[font=\carlito\fs{27.6}\bfseries\itshape] at (1225,1020) {Melsen (6286 cells)};
\node[font=\carlito\fs{27.6}\bfseries] at (1225,988) {Cluster};

% ---------- subset names over the first umap
\definecolor{lblpink}{HTML}{A2327F}
\definecolor{lblblue}{HTML}{2262A8}
\definecolor{lblgreen}{HTML}{2E5C2E}
\definecolor{lblbrown}{HTML}{7A3F14}
\definecolor{lblred}{HTML}{D2201F}
\node[font=\carlito\fs{29}\bfseries, text=lblpink] at (117,919) {NK prolif};
\node[font=\carlito\fs{28.4}\bfseries, text=lblblue] at (267,868) {CD56\textsuperscript{dim}\textit{GZMK}\textsuperscript{-}};
\node[font=\carlito\fs{29}\bfseries, text=lblgreen] at (87,817) {ltNK};
\node[font=\carlito\fs{28.2}\bfseries, text=lblbrown] at (212,793) {CD56\textsuperscript{dim}\textit{GZMK}\textsuperscript{+}};
\node[font=\carlito\fs{28.4}\bfseries, text=lblred] at (196,720) {CD56\textsuperscript{bright}};
\end{tikzpicture}
\end{document}
